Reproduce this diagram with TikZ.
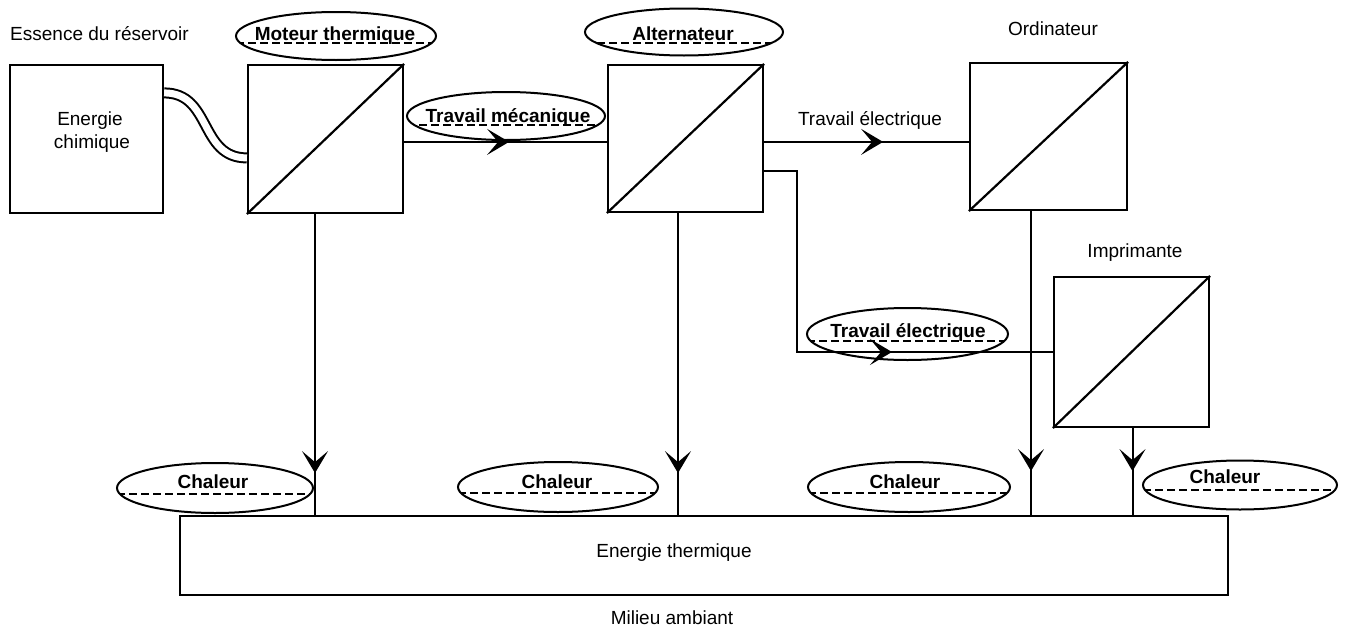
\documentclass[tikz,border=0pt]{standalone}
\usepackage{fontspec}
\setmainfont{Liberation Sans}
\usetikzlibrary{arrows.meta,shapes.geometric}
\begin{document}
\begin{tikzpicture}[x=1pt,y=-1pt,
  every node/.style={font=\fontsize{19}{23}\selectfont},
  conv/.style={draw, line width=2.2pt, inner sep=0pt, minimum width=155pt, minimum height=148pt},
  plain/.style={draw, line width=2.2pt, inner sep=0pt},
  conn/.style={line width=2pt},
  tip/.style={line width=2pt, -{Stealth[length=22pt,width=26pt,inset=11pt]}},
  dashl/.style={line width=1.8pt, dash pattern=on 8pt off 4pt},
  ell/.style={draw, ellipse, line width=2pt, inner sep=0pt,
    path picture={\draw[dashl] ([yshift=#1]path picture bounding box.west) -- ([yshift=#1]path picture bounding box.east);}},
  lbl/.style={anchor=base, inner sep=0pt},
  blbl/.style={anchor=base, inner sep=0pt, font=\fontsize{19}{23}\selectfont\bfseries}
]
\useasboundingbox (0,0) rectangle (1347,632);

% converter boxes
\node[plain, minimum width=153pt, minimum height=148pt] (chem) at (86.5,139) {};
\node[conv] (moteur) at (325.5,139) {};
\node[conv, minimum height=147pt] (altern) at (685.5,138.5) {};
\node[conv, minimum width=157pt, minimum height=147pt] (ordi) at (1048.5,136.5) {};
\node[conv, minimum height=150pt] (impr) at (1131.5,352) {};
\node[plain, minimum width=1048pt, minimum height=79pt] (therm) at (704,555.5) {};

\foreach \b in {moteur,altern,ordi,impr}
  \draw[line width=2.2pt] (\b.south west) -- (\b.north east);

% texts
\node[lbl, anchor=base west] (essence) at (10,40) {Essence du réservoir};
\node[lbl] (t-en) at (90,125) {Energie};
\node[lbl] (t-ch) at (92,148) {chimique};
\node[lbl] (t-ordi) at (1053,35) {Ordinateur};
\node[lbl] (t-impr) at (1135,257) {Imprimante};
\node[lbl] (t-te1) at (870,125) {Travail électrique};
\node[lbl] (t-therm) at (674,557) {Energie thermique};
\node[lbl] (t-mil) at (672,624) {Milieu ambiant};

% ellipses with labels
\node[ell=-7pt, minimum width=200pt, minimum height=48pt] (e-mot) at (336,36) {};
\node[blbl] at (335,40) {Moteur thermique};
\node[ell=-11pt, minimum width=198pt, minimum height=47pt] (e-alt) at (684,32) {};
\node[blbl] at (683,40) {Alternateur};
\node[ell=-9pt, minimum width=198pt, minimum height=48pt] (e-tm) at (506,116) {};
\node[blbl] at (508,122) {Travail mécanique};
\node[ell=-7pt, minimum width=201pt, minimum height=52pt] (e-te) at (907.5,334) {};
\node[blbl] at (908,337) {Travail électrique};
\node[ell=-6pt, minimum width=196pt, minimum height=50pt] (e-c1) at (215,488) {};
\node[blbl] at (213,488) {Chaleur};
\node[ell=-6pt, minimum width=200pt, minimum height=50pt] (e-c2) at (558,487) {};
\node[blbl] at (557,488) {Chaleur};
\node[ell=-6pt, minimum width=202pt, minimum height=50pt] (e-c3) at (909,487) {};
\node[blbl] at (905,488) {Chaleur};
\node[ell=-5pt, minimum width=194pt, minimum height=49pt] (e-c4) at (1240,485) {};
\node[blbl] at (1225,483) {Chaleur};

% pipe from fuel to engine
\draw[double, double distance=7pt, line width=2pt]
  ([yshift=-29pt]chem.north east) .. controls +(48,0) and +(-48,0) .. ([yshift=-94pt]moteur.north west);

% mechanical work
\coordinate (m1) at ([yshift=-78pt]moteur.north east);
\draw[conn] (m1) -- (m1 -| altern.west);
\draw[tip] (m1) -- ([xshift=105pt]m1);

% electrical work to computer
\coordinate (a1) at ([yshift=-78pt]altern.north east);
\draw[conn] (a1) -- (a1 -| ordi.west);
\draw[tip] (a1) -- ([xshift=119pt]a1);

% electrical work to printer
\coordinate (a2) at ([yshift=-107pt]altern.north east);
\coordinate (bend) at (797,352);
\draw[conn] (a2) -| (bend) -- (impr.west);
\draw[tip] (bend) -- ([xshift=95pt]bend);

% heat flows
\coordinate (h1) at ([xshift=-10.5pt]moteur.south);
\draw[conn] (h1) -- (h1 |- therm.north);
\draw[tip] (h1) -- ([yshift=-259pt]h1);
\coordinate (h2) at ([xshift=-7.5pt]altern.south);
\draw[conn] (h2) -- (h2 |- therm.north);
\draw[tip] (h2) -- ([yshift=-260pt]h2);
\coordinate (h3) at ([xshift=-17.5pt]ordi.south);
\draw[conn] (h3) -- (h3 |- therm.north);
\draw[tip] (h3) -- ([yshift=-260pt]h3);
\coordinate (h4) at ([xshift=1pt]impr.south);
\draw[conn] (h4) -- (h4 |- therm.north);
\draw[tip] (h4) -- ([yshift=-43pt]h4);
\end{tikzpicture}
\end{document}
